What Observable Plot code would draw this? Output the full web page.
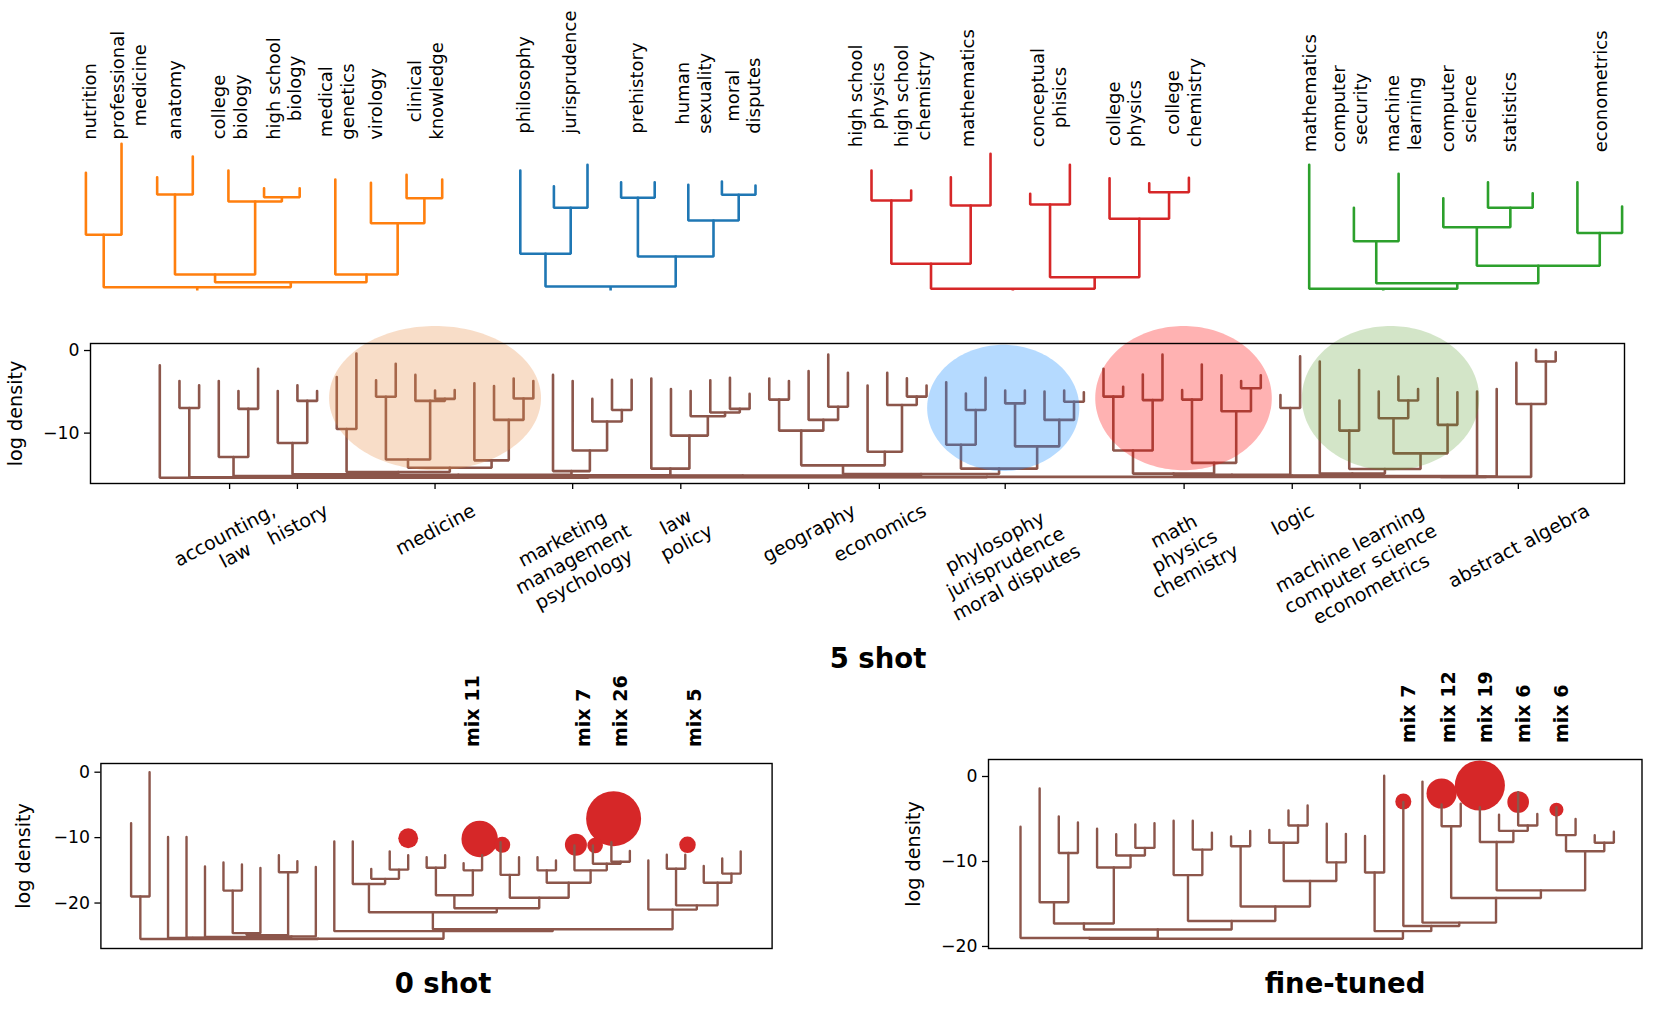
<!DOCTYPE html>
<html><head><meta charset="utf-8">
<script src="https://cdn.jsdelivr.net/npm/d3@7"></script>
<script src="https://cdn.jsdelivr.net/npm/@observablehq/plot@0.6"></script>
<style>
body{margin:0;background:#fff;}
#wrap{position:relative;width:1660px;height:1010px;overflow:hidden;font-family:"DejaVu Sans",sans-serif;background:#fff;}
.layer{position:absolute;}
.title{position:absolute;font-family:"DejaVu Sans",sans-serif;font-weight:bold;font-size:27.5px;line-height:1;transform:translate(-50%,-50%);white-space:nowrap;color:#000;}
</style></head><body><div id="wrap"></div>
<script>
// ---------- top dendrograms (subject clusters) ----------
const orangeTops = [12.77, 15.67, 12.33, 14.4, 13.0, 11.23, 11.23, 12.1, 11.77, 12.57, 12.1];
const orangeMerges = [[0,1,6.57],[2,3,10.6],[5,6,10.33],[4,13,9.9],[12,14,2.6],[9,10,10.23],[8,16,7.73],[7,17,2.6],[15,18,1.83],[11,19,1.33]];
const orangeLabels = ["nutrition","professional\nmedicine","anatomy","college\nbiology","high school\nbiology","medical\ngenetics","virology","clinical\nknowledge"];
const orangeLabelAt = [0.1, 1.18, 2.48, 4.02, 5.55, 7.02, 8.12, 9.52];

const blueTops = [13.0, 11.43, 13.57, 11.83, 11.83, 11.57, 11.9, 11.5];
const blueMerges = [[1,2,9.27],[0,8,4.67],[3,4,10.27],[6,7,10.57],[5,11,8.0],[10,12,4.4],[9,13,1.4]];
const blueLabels = ["philosophy","jurisprudence","prehistory","human\nsexuality","moral\ndisputes"];
const blueLabelAt = [0.07, 1.46, 3.46, 5.15, 6.61];

const redTops = [13.0, 11.0, 12.33, 14.67, 10.67, 13.57, 12.23, 11.73, 12.27];
const redMerges = [[0,1,10.0],[2,3,9.5],[9,10,3.67],[4,5,9.6],[7,8,10.83],[6,13,8.17],[12,14,2.33],[11,15,1.17]];
const redLabels = ["high school\nphysics","high school\nchemistry","mathematics","conceptual\nphisics","college\nphysics","college\nchemistry"];
const redLabelAt = [-0.14, 1.03, 2.40, 4.45, 6.35, 7.86];

const greenTops = [13.57, 9.27, 12.67, 10.23, 11.83, 10.73, 11.82, 9.4];
const greenMerges = [[1,2,5.93],[4,5,9.27],[3,9,7.33],[6,7,6.75],[10,11,3.47],[8,12,1.73],[0,13,1.17]];
const greenLabels = ["mathematics","computer\nsecurity","machine\nlearning","computer\nscience","statistics","econometrics"];
const greenLabelAt = [0, 0.89, 2.1, 3.33, 4.48, 6.5];

// ---------- 5 shot ----------
const fiveTops = [-1.8,-3.7,-4.2,-3.7,-4.9,-2.2,-4.9,-4.2,-4.9,-3.2,
  -0.36,-3.6,-1.6,-2.95,-4.85,-4.8,-3.96,-4.3,-3.4,-3.7,
  -2.95,-3.7,-5.86,-3.55,-3.55,-3.4,-4.65,-4.9,-3.6,-3.3,
  -5.25,-3.4,-3.7,-2.5,-0.5,-2.7,-4.24,-2.7,-3.35,-4.24,
  -3.84,-5.2,-3.3,-4.85,-4.85,-4.97,-4.85,-5.05,-2.2,-4.4,
  -2.9,-0.5,-4.8,-1.7,-3.0,-3.7,-3.0,-5.4,-0.7,-1.33,
  -6.06,-2.35,-4.97,-3.15,-4.65,-3.35,-5.05,-4.97,-4.65,-1.5,
  0.08,-0.2];
const fiveMerges = [[1,2,-6.95],[4,5,-7.07],[3,73,-12.9],[7,8,-6.1],[6,75,-11.2],[9,10,-9.5],
  [11,12,-5.6],[14,15,-5.86],[13,79,-6.1],[78,80,-13.2],[18,19,-5.8],[17,82,-8.4],[16,83,-13.3],
  [81,84,-14.2],[77,85,-14.7],[23,24,-7.2],[22,87,-8.6],[21,88,-12.1],[20,89,-14.6],
  [29,30,-7.07],[28,91,-7.5],[27,92,-7.96],[26,93,-10.3],[25,94,-14.3],
  [31,32,-5.94],[34,35,-6.8],[33,97,-8.4],[96,98,-9.7],[38,39,-5.58],[37,100,-6.6],[36,101,-12.25],[99,102,-13.9],
  [41,42,-7.2],[40,104,-11.4],[43,44,-6.4],[46,47,-6.2],[45,107,-8.4],[106,108,-11.6],[105,109,-14.3],
  [48,49,-5.58],[50,51,-6.0],[111,112,-12.1],[52,53,-5.94],[55,56,-4.57],[54,115,-7.35],[114,116,-13.6],[113,117,-14.9],
  [57,58,-6.95],
  [60,61,-9.7],[63,64,-6.06],[62,121,-8.2],[65,66,-9.0],[122,123,-12.45],[120,124,-14.35],[59,125,-14.9],
  [70,71,-1.33],[69,127,-6.47],
  [103,110,-14.95],[76,86,-15.0],[130,90,-15.05],[131,95,-15.1],[118,119,-15.05],[132,129,-15.15],
  [74,134,-15.2],[133,126,-15.15],[136,67,-15.2],[137,68,-15.25],[138,128,-15.3],[135,139,-15.3],
  [72,140,-15.35],[0,141,-15.4]];
const fiveTickAt = [3.55, 7.0, 14.0, 21.0, 26.5, 33.0, 36.6, 43.0, 52.1, 57.6, 61.05, 69.1];
const fiveTickLabels = ["accounting,\nlaw","history","medicine","marketing\nmanagement\npsychology","law\npolicy","geography","economics","phylosophy\njurisprudence\nmoral disputes","math\nphysics\nchemistry","logic","machine learning\ncomputer science\neconometrics","abstract algebra"];
const ellipseCx = [14.0, 42.9, 52.07, 62.6];
const ellipseCy = [-5.76, -6.95, -5.76, -5.76];
const ellipseRx = [5.39, 3.87, 4.49, 4.51];
const ellipseRy = [8.73, 7.64, 8.73, 8.73];

// ---------- 0 shot ----------
const zeroTops = [-7.8,0.0,-9.9,-9.9,-14.4,-13.8,-14.1,-14.65,-12.7,-13.6,
  -14.5,-10.6,-10.6,-14.8,-12.1,-12.7,-13.0,-12.7,-13.9,-12.7,
  -10.7,-13.0,-13.0,-13.5,-11.2,-11.2,-10.7,-12.05,-13.5,-12.6,
  -12.6,-14.35,-13.2,-12.1];
const zeroMerges = [[0,1,-19.0],[5,6,-18.1],[8,9,-15.3],[14,15,-14.9],[13,37,-16.3],[12,38,-17.1],
  [16,17,-14.6],[18,19,-15.0],[40,41,-18.8],[20,21,-15.7],[22,23,-15.0],[26,27,-13.7],[25,45,-14.0],
  [24,46,-15.0],[44,47,-16.9],[43,48,-19.2],[42,49,-20.8],[29,30,-14.75],[32,33,-15.5],[31,52,-16.9],
  [51,53,-20.35],[39,50,-21.4],[28,54,-21.0],[55,56,-24.0],[11,57,-24.3],[35,7,-24.6],[59,36,-24.9],
  [60,10,-25.1],[4,61,-25.2],[3,62,-25.3],[2,63,-25.35],[64,58,-25.45],[34,65,-25.5]];
const zeroMixAt = [15, 18.87, 20.09, 24.08, 25.12, 26.12, 30.12];
const zeroMixY = [-10.1, -10.2, -11.1, -11.1, -11.2, -7.1, -11.1];
const zeroMixW = [0.13, 0.44, 0.085, 0.16, 0.08, 1.0, 0.09];
const zeroMixLabels = ["mix 11","mix 7","mix 26","mix 5"];
const zeroMixLabelAt = [18.5, 24.5, 26.5, 30.5];

// ---------- fine-tuned ----------
const ftTops = [-5.9,-1.4,-4.7,-5.4,-6.15,-6.8,-5.65,-5.5,-5.2,-5.2,
  -6.6,-7.05,-6.4,-6.3,-4.0,-3.4,-5.56,-6.75,-7.0,0.1,
  -3.0,-0.6,-3.3,-3.2,-3.6,-4.5,-1.85,-4.4,-3.6,-5.0,
  -6.9,-6.5];
const ftMerges = [[2,3,-9.0],[1,32,-14.8],[6,7,-8.4],[5,34,-9.3],[4,35,-10.7],[9,10,-8.6],[8,37,-11.6],
  [11,12,-8.2],[14,15,-5.76],[13,40,-7.8],[16,17,-10.1],[41,42,-12.3],[39,43,-15.3],[18,19,-11.3],
  [22,23,-5.85],[26,27,-5.76],[25,47,-6.4],[24,48,-7.7],[28,29,-6.9],[30,31,-7.8],[50,51,-8.8],
  [49,52,-13.4],[46,53,-14.3],[33,36,-17.3],[38,44,-17.0],[55,56,-18.0],[0,57,-19.0],[21,54,-17.2],
  [20,59,-17.6],[45,60,-18.2],[58,61,-19.1]];
const ftMixAt = [20, 22, 24, 26, 28];
const ftMixY = [-2.94, -2.0, -1.06, -3.0, -3.9];
const ftMixW = [0.085, 0.30, 0.83, 0.155, 0.065];
const ftMixLabels = ["mix 7","mix 12","mix 19","mix 6","mix 6"];
const ftMixLabelAt = [20.3, 22.4, 24.3, 26.3, 28.3];

// ---------- helpers ----------
const BROWN = "#8c564b";
const FONT = '"DejaVu Sans", sans-serif';
const wrap = document.getElementById("wrap");
const ctx = document.createElement("canvas").getContext("2d");
function maxW(s, px, weight) {
  ctx.font = `${weight || "normal"} ${px}px "DejaVu Sans"`;
  return Math.max(...s.split("\n").map(l => ctx.measureText(l).width));
}
function dendro(tops, merges) {
  const n = tops.length;
  const xs = tops.map((_, i) => i), hs = tops.slice();
  const pts = [];
  merges.forEach(([a, b, h], k) => {
    const id = n + k;
    pts.push({x: xs[a], y: hs[a], id}, {x: xs[a], y: h, id}, {x: xs[b], y: h, id}, {x: xs[b], y: hs[b], id});
    xs[id] = (xs[a] + xs[b]) / 2; hs[id] = h;
  });
  return {pts, root: {x: xs[xs.length - 1], h: hs[hs.length - 1]}};
}
function place(el, left, top) {
  const d = document.createElement("div");
  d.className = "layer"; d.style.left = left + "px"; d.style.top = top + "px";
  d.appendChild(el); wrap.appendChild(d);
}
function title(text, cx, cy) {
  const d = document.createElement("div");
  d.className = "title"; d.textContent = text;
  d.style.left = cx + "px"; d.style.top = cy + "px";
  wrap.appendChild(d);
}
const baseStyle = {fontFamily: FONT, fontSize: "17.3px", color: "black", background: "transparent", overflow: "visible"};

// ---------- top trees ----------
const TOPFS = 18;
function topTree(tops, merges, labels, at, color, x0, x1, base) {
  const d = dendro(tops, merges);
  const marks = [
    Plot.line(d.pts, {x: "x", y: "y", z: "id", stroke: color, strokeWidth: 2.6, strokeLinejoin: "miter"}),
    Plot.link([d.root], {x1: "x", x2: "x", y1: "h", y2: () => 1.0, stroke: color, strokeWidth: 2.6})
  ];
  labels.forEach((lab, i) => {
    const w = maxW(lab, TOPFS);
    marks.push(Plot.text([lab], {x: () => at[i], frameAnchor: "top", dy: base - w / 2, rotate: -90,
      textAnchor: "middle", lineAnchor: "middle", lineHeight: 1.2, fontSize: TOPFS, fill: "black"}));
  });
  return Plot.plot({width: 1660, height: 300, marginTop: 0, marginBottom: 0, marginLeft: 0, marginRight: 0,
    style: baseStyle,
    x: {domain: [0, tops.length - 1], range: [x0, x1], axis: null},
    y: {domain: [0, 16], range: [300, 140], axis: null},
    marks});
}
place(topTree(orangeTops, orangeMerges, orangeLabels, orangeLabelAt, "#ff7f0e", 85.4, 441.7, 139.3), 0, 0);
place(topTree(blueTops, blueMerges, blueLabels, blueLabelAt, "#1f77b4", 519.8, 755, 133.3), 0, 0);
place(topTree(redTops, redMerges, redLabels, redLabelAt, "#d62728", 871, 1188.4, 146.7), 0, 0);
place(topTree(greenTops, greenMerges, greenLabels, greenLabelAt, "#2ca02c", 1308.7, 1621.6, 151.7), 0, 0);

// ---------- 5 shot panel ----------
{
  const d = dendro(fiveTops, fiveMerges);
  const ellColors = ["#e8904a", "#1e90ff", "#ff0000", "#4f9723"];
  const ellOpac = [0.3, 0.33, 0.3, 0.25];
  const marks = [Plot.line(d.pts, {x: "x", y: "y", z: "id", stroke: BROWN, strokeWidth: 2.6, strokeLinejoin: "miter"})];
  ellipseCx.forEach((cx, k) => {
    const pts = d3.range(0, 181).map(j => {
      const t = j / 180 * 2 * Math.PI;
      return {x: cx + ellipseRx[k] * Math.cos(t), y: ellipseCy[k] + ellipseRy[k] * Math.sin(t)};
    });
    marks.push(Plot.line(pts, {x: "x", y: "y", fill: ellColors[k], fillOpacity: ellOpac[k], stroke: "none"}));
  });
  marks.push(Plot.frame({stroke: "black", strokeWidth: 1.4}));
  marks.push(Plot.axisY({ticks: [0, -10], tickSize: 6, tickPadding: 5, fontSize: 17.3, label: null, strokeWidth: 1.3}));
  marks.push(Plot.axisX({ticks: fiveTickAt, tickFormat: () => "", tickSize: 6, label: null, strokeWidth: 1.3}));
  marks.push(Plot.text(["log density"], {frameAnchor: "left", dx: -75, rotate: -90, fontSize: 19.2,
    textAnchor: "middle", lineAnchor: "middle", fill: "black"}));
  const ang = 28 * Math.PI / 180, fs = 19;
  fiveTickLabels.forEach((lab, i) => {
    const w = maxW(lab, fs);
    const n = lab.split("\n").length;
    const h = ((n - 1) * 1.2 + 1.17) * fs;
    const bh = w * Math.sin(ang) + h * Math.cos(ang);
    marks.push(Plot.text([lab], {x: () => fiveTickAt[i], frameAnchor: "bottom", dy: 15 + bh / 2, rotate: -28,
      textAnchor: "middle", lineAnchor: "middle", lineHeight: 1.2, fontSize: fs, fill: "black"}));
  });
  const svg = Plot.plot({width: 1660, height: 345, marginLeft: 90, marginRight: 36, marginTop: 43, marginBottom: 162,
    style: baseStyle,
    x: {domain: [-3.525, 74.5], axis: null},
    y: {domain: [-16.1, 0.85]},
    marks});
  place(svg, 0, 300);
}
title("5 shot", 878, 659);

// ---------- bottom panels ----------
function panel(tops, merges, mixAt, mixY, mixW, mixLabels, mixLabelAt, opt) {
  const d = dendro(tops, merges);
  const circles = mixAt.map((x, i) => ({x, y: mixY[i], w: mixW[i]}));
  return Plot.plot({width: opt.width, height: 300, marginLeft: opt.ml, marginRight: opt.mr, marginTop: opt.mt, marginBottom: 12,
    style: baseStyle,
    x: {domain: opt.xd, axis: null},
    y: {domain: opt.yd},
    r: {type: "sqrt", domain: [0, 1], range: [0, 27.5]},
    marks: [
      Plot.dot(circles, {x: "x", y: "y", r: "w", fill: "#d62728"}),
      Plot.line(d.pts, {x: "x", y: "y", z: "id", stroke: BROWN, strokeWidth: 2.4, strokeLinejoin: "miter"}),
      Plot.frame({stroke: "black", strokeWidth: 1.4}),
      Plot.axisY({ticks: [0, -10, -20], tickSize: 6, tickPadding: 5, fontSize: 17.3, label: null, strokeWidth: 1.3}),
      Plot.text(["log density"], {frameAnchor: "left", dx: -opt.labDx, rotate: -90, fontSize: 19.2,
        textAnchor: "middle", lineAnchor: "middle", fill: "black"}),
      Plot.text(mixLabels, {x: (dd, i) => mixLabelAt[i], frameAnchor: "top", dy: -16.5, rotate: -90,
        textAnchor: "start", lineAnchor: "middle", fontWeight: "bold", fontSize: 19, fill: "black"})
    ]});
}
place(panel(zeroTops, zeroMerges, zeroMixAt, zeroMixY, zeroMixW, zeroMixLabels, zeroMixLabelAt,
  {width: 790, ml: 100.4, mr: 18.4, mt: 103, xd: [-1.635, 34.7], yd: [-26.95, 1.33], labDx: 77.4}), 0, 660);
place(panel(ftTops, ftMerges, ftMixAt, ftMixY, ftMixW, ftMixLabels, ftMixLabelAt,
  {width: 810, ml: 138, mr: 18.5, mt: 99, xd: [-1.672, 32.47], yd: [-20.24, 2.0], labDx: 75}), 850, 660);
title("0 shot", 443, 984);
title("fine-tuned", 1345, 984);
</script></body></html>
